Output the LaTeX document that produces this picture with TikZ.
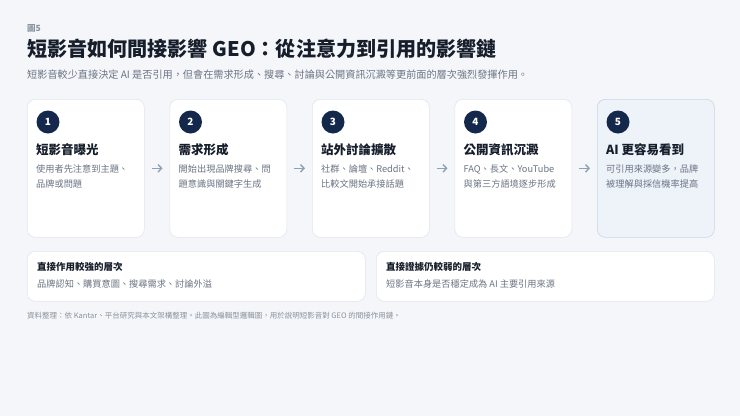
\documentclass[tikz,border=0pt]{standalone}
\usepackage{fontspec}
\setmainfont{Noto Sans CJK TC}
\usetikzlibrary{arrows.meta}
\definecolor{bg}{HTML}{F4F6F9}
\definecolor{cardline}{HTML}{E1E6ED}
\definecolor{hifill}{HTML}{EEF3FA}
\definecolor{hiline}{HTML}{C9D6E6}
\definecolor{navy}{HTML}{13284A}
\definecolor{ink}{HTML}{161E2B}
\definecolor{muted}{HTML}{6B7483}
\definecolor{faint}{HTML}{8A929E}
\definecolor{arrowc}{HTML}{8EA1B5}
\tikzset{
 card/.style={draw=cardline, fill=white, rounded corners=8pt, minimum width=117pt, minimum height=138pt, anchor=north west, inner sep=0pt, line width=0.6pt},
 hicard/.style={card, fill=hifill, draw=hiline},
 num/.style={circle, fill=navy, text=white, minimum size=23pt, inner sep=0pt, font=\fontsize{10}{11}\selectfont\bfseries},
 ctitle/.style={anchor=base west, inner sep=0pt, font=\fontsize{12.5}{14}\selectfont\bfseries, text=ink},
 cdesc/.style={anchor=base west, inner sep=0pt, font=\fontsize{9.2}{11}\selectfont, text=muted},
 flow/.style={draw=arrowc, line width=1.4pt, -{Straight Barb[length=3.5pt,width=7.5pt]}, shorten >=7pt, shorten <=7pt},
 panel/.style={draw=cardline, fill=white, rounded corners=8pt, anchor=north west, minimum width=338pt, minimum height=50pt, inner sep=0pt, line width=0.6pt},
 ptitle/.style={anchor=base west, inner sep=0pt, font=\fontsize{9.5}{11}\selectfont\bfseries, text=ink},
 pdesc/.style={anchor=base west, inner sep=0pt, font=\fontsize{9.2}{11}\selectfont, text=muted}
}
\begin{document}
\begin{tikzpicture}[x=1pt,y=-1pt]
\fill[bg] (0,0) rectangle (740,416);
\useasboundingbox (0,0) rectangle (740,416);
% header
\node[anchor=base west, inner sep=0pt, font=\fontsize{8.5}{10}\selectfont\bfseries, text=faint] (fig) at (27,31.5) {圖5};
\node[anchor=base west, inner sep=0pt, font=\fontsize{20.1}{24}\selectfont\bfseries, text=ink] (title) at (27,56.5) {短影音如何間接影響 GEO：從注意力到引用的影響鏈};
\node[anchor=base west, inner sep=0pt, font=\fontsize{10.15}{12}\selectfont, text=muted] (sub) at (27,78) {短影音較少直接決定 AI 是否引用，但會在需求形成、搜尋、討論與公開資訊沉澱等更前面的層次強烈發揮作用。};
% cards
\node[card] (c1) at (27,99) {};
\node[card] (c2) at (169.5,99) {};
\node[card] (c3) at (312,99) {};
\node[card] (c4) at (454.5,99) {};
\node[hicard] (c5) at (597,99) {};
% numbers
\node[num] (n1) at (48,122) {1};
\node[num] (n2) at (190.5,122) {2};
\node[num] (n3) at (333,122) {3};
\node[num] (n4) at (475.5,122) {4};
\node[num] (n5) at (618,122) {5};
% titles
\node[ctitle] (t1) at (36,154.7) {短影音曝光};
\node[ctitle] (t2) at (178.5,154.7) {需求形成};
\node[ctitle] (t3) at (321,154.7) {站外討論擴散};
\node[ctitle] (t4) at (463.5,154.7) {公開資訊沉澱};
\node[ctitle] (t5) at (606,154.7) {AI 更容易看到};
% descriptions
\node[cdesc] (d1a) at (36,172.5) {使用者先注意到主題、};
\node[cdesc] (d1b) at (36,187.5) {品牌或問題};
\node[cdesc] (d2a) at (178.5,172.5) {開始出現品牌搜尋、問};
\node[cdesc] (d2b) at (178.5,187.5) {題意識與關鍵字生成};
\node[cdesc] (d3a) at (321,172.5) {社群、論壇、Reddit、};
\node[cdesc] (d3b) at (321,187.5) {比較文開始承接話題};
\node[cdesc] (d4a) at (463.5,172.5) {FAQ、長文、YouTube};
\node[cdesc] (d4b) at (463.5,187.5) {與第三方語境逐步形成};
\node[cdesc] (d5a) at (606,172.5) {可引用來源變多，品牌};
\node[cdesc] (d5b) at (606,187.5) {被理解與採信機率提高};
% arrows
\draw[flow] (c1.east) -- (c2.west);
\draw[flow] (c2.east) -- (c3.west);
\draw[flow] (c3.east) -- (c4.west);
\draw[flow] (c4.east) -- (c5.west);
% panels
\node[panel] (p1) at (27,251) {};
\node[panel] (p2) at (376,251) {};
\node[ptitle] (p1t) at (37,270.5) {直接作用較強的層次};
\node[pdesc] (p1d) at (37,287.5) {品牌認知、購買意圖、搜尋需求、討論外溢};
\node[ptitle] (p2t) at (386,270.5) {直接證據仍較弱的層次};
\node[pdesc] (p2d) at (386,287.5) {短影音本身是否穩定成為 AI 主要引用來源};
% footer
\node[anchor=base west, inner sep=0pt, font=\fontsize{7.5}{9}\selectfont, text=faint] (foot) at (27,318) {資料整理：依 Kantar、平台研究與本文架構整理。此圖為編輯型邏輯圖，用於說明短影音對 GEO 的間接作用鏈。};
\end{tikzpicture}
\end{document}
